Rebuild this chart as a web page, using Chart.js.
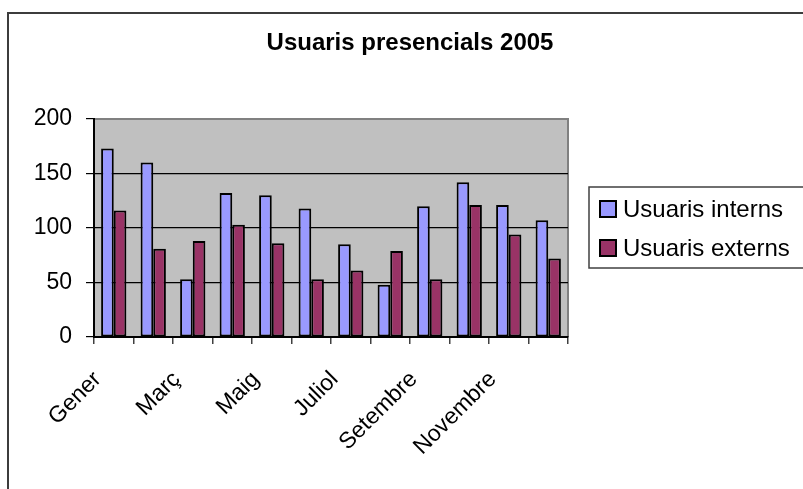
<!DOCTYPE html>
<html>
<head>
<meta charset="utf-8">
<script src="https://cdn.jsdelivr.net/npm/chart.js@4/dist/chart.umd.min.js"></script>
<style>
  html, body { margin: 0; padding: 0; background: #fff; overflow: hidden; }
  #wrap { position: relative; width: 803px; height: 489px; }
  #frame { position: absolute; left: 7px; top: 12px; width: 820px; height: 500px; border: 2px solid #3c3c3c; }
  canvas { position: absolute; left: 0; top: 0; }
</style>
</head>
<body>
<div id="wrap">
  <div id="frame"></div>
  <canvas id="chart" width="803" height="489"></canvas>
</div>
<script>
// months of 2005
const months = ['Gener', 'Febrer', 'Març', 'Abril', 'Maig', 'Juny',
  'Juliol', 'Agost', 'Setembre', 'Octubre', 'Novembre', 'Desembre'];
const interns = [173, 160, 53, 132, 130, 118, 85, 48, 120, 142, 121, 107];
const externs = [116, 81, 88, 103, 86, 53, 61, 79, 53, 121, 94, 72];
const yTicks = [0, 50, 100, 150, 200];
const seriesNames = ['Usuaris interns', 'Usuaris externs'];
const seriesColors = ['#9999FF', '#993366'];
const chartTitle = 'Usuaris presencials 2005';

const FONT = "Arial, 'Liberation Sans', sans-serif";

// grey plot background, title and boxed legend (Excel look)
const excelLook = {
  id: 'excelLook',
  beforeDraw(chart) {
    const { ctx, chartArea: a } = chart;
    ctx.save();
    ctx.fillStyle = '#C0C0C0';
    ctx.fillRect(a.left, a.top, a.right - a.left, a.bottom - a.top);
    ctx.strokeStyle = '#808080';
    ctx.lineWidth = 2;
    ctx.beginPath();
    ctx.moveTo(a.left, a.top);
    ctx.lineTo(a.right, a.top);
    ctx.lineTo(a.right, a.bottom);
    ctx.stroke();
    ctx.restore();
  },
  afterDraw(chart) {
    const ctx = chart.ctx;
    ctx.save();
    ctx.fillStyle = '#000';
    ctx.font = 'bold 24px ' + FONT;
    ctx.textAlign = 'center';
    ctx.textBaseline = 'middle';
    ctx.fillText(chartTitle, 410, 43);

    // legend
    ctx.strokeStyle = '#404040';
    ctx.lineWidth = 1.5;
    ctx.strokeRect(589, 187, 240, 81);
    ctx.font = '24px ' + FONT;
    ctx.textAlign = 'left';
    chart.data.datasets.forEach((ds, i) => {
      const y = 209 + i * 39;
      ctx.fillStyle = ds.backgroundColor;
      ctx.fillRect(600, y - 8, 16, 16);
      ctx.strokeStyle = '#000';
      ctx.lineWidth = 2;
      ctx.strokeRect(600, y - 8, 16, 16);
      ctx.fillStyle = '#000';
      ctx.fillText(ds.label, 623, y + 1);
    });
    ctx.restore();
  }
};

const chart = new Chart(document.getElementById('chart'), {
  type: 'bar',
  data: {
    labels: months,
    datasets: [
      { label: seriesNames[0], data: interns, backgroundColor: seriesColors[0] },
      { label: seriesNames[1], data: externs, backgroundColor: seriesColors[1] }
    ]
  },
  options: {
    responsive: false,
    animation: false,
    layout: { padding: { left: 0, right: 235, top: 119, bottom: 0 } },
    datasets: {
      bar: {
        borderColor: '#000',
        borderWidth: 2,
        borderSkipped: false,
        categoryPercentage: 0.64,
        barPercentage: 1
      }
    },
    plugins: {
      legend: { display: false },
      title: { display: false },
      tooltip: { enabled: false }
    },
    scales: {
      x: {
        afterFit(scale) { scale.height = 152; },
        grid: {
          display: true,
          drawOnChartArea: false,
          drawTicks: true,
          tickLength: 7,
          offset: true,
          color: '#404040',
          lineWidth: 1.5
        },
        border: { display: true, color: '#000', width: 2 },
        ticks: {
          autoSkip: false,
          maxRotation: 45,
          minRotation: 45,
          padding: 22,
          labelOffset: -16,
          color: '#000',
          font: { family: FONT, size: 23 },
          callback(value, index) { return index % 2 === 0 ? months[index] : ''; }
        }
      },
      y: {
        min: 0,
        max: 200,
        afterFit(scale) { scale.width = 94; },
        afterBuildTicks(scale) { scale.ticks = yTicks.map(v => ({ value: v })); },
        grid: {
          color: ctx => ctx.tick && ctx.tick.value === 200 ? '#808080' : '#000',
          lineWidth: 1.2,
          tickLength: 8,
          tickColor: '#000'
        },
        border: { display: true, color: '#000', width: 2 },
        ticks: {
          padding: 14,
          color: '#000',
          font: { family: FONT, size: 23 }
        }
      }
    }
  },
  plugins: [excelLook]
});
</script>
</body>
</html>
